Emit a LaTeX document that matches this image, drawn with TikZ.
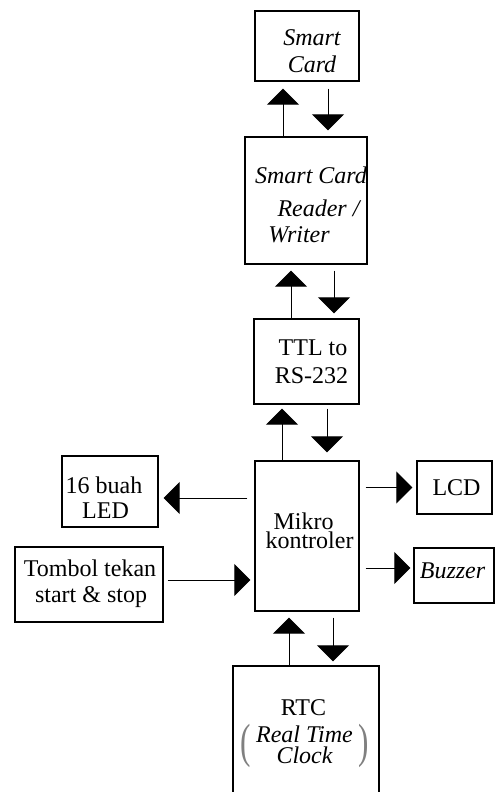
\documentclass[tikz,border=0pt]{standalone}
\usepackage{fontspec}
\setmainfont{Liberation Serif}
\usetikzlibrary{arrows.meta}
\begin{document}
\begin{tikzpicture}[x=1pt,y=-1pt,
  box/.style={draw, line width=1.3pt, inner sep=0pt},
  txt/.style={anchor=base, inner sep=0pt, font=\fontsize{24}{28}\selectfont},
  itxt/.style={txt, font=\fontsize{24}{28}\selectfont\itshape},
  arr/.style={line width=1pt, -{Triangle[length=16pt,width=32pt]}},
  paren/.style={inner sep=0pt, text=black!50, font=\fontsize{24}{28}\selectfont}]
\useasboundingbox (0,0) rectangle (495,792);
\clip (0,0) rectangle (495,792);
\fill[white] (0,0) rectangle (495,792);
% boxes
\node[box, minimum width=104pt, minimum height=70pt] (sc) at (307,46) {};
\node[box, minimum width=122pt, minimum height=127pt] (rdr) at (306,200.5) {};
\node[box, minimum width=105pt, minimum height=85pt] (ttl) at (306.5,361.5) {};
\node[box, minimum width=104pt, minimum height=150pt] (mk) at (307,536) {};
\node[box, minimum width=96pt, minimum height=71pt] (led) at (110,491.5) {};
\node[box, minimum width=148pt, minimum height=75pt] (tb) at (89,584.5) {};
\node[box, minimum width=75pt, minimum height=53pt] (lcd) at (454.5,487.5) {};
\node[box, minimum width=80pt, minimum height=55pt] (bz) at (454,575.5) {};
\node[box, minimum width=146pt, minimum height=154pt] (rtc) at (306,743) {};
% texts
\node[itxt] (t1) at (312,46) {Smart};
\node[itxt] (t2) at (312,73) {Card};
\node[itxt] (t3) at (311,183) {Smart Card};
\node[itxt] (t4) at (318.5,216) {Reader /};
\node[itxt] (t5) at (299,242) {Writer};
\node[txt] (t6) at (313,355) {TTL to};
\node[txt] (t7) at (311.5,383) {RS-232};
\node[txt, align=center, font=\fontsize{24}{19}\selectfont] (t8) at (306.5,548)
  {Mikro\hspace*{6pt}\\\hspace*{6pt}kontroler};
\node[txt] (t10) at (104,493) {16 buah};
\node[txt] (t11) at (105.5,518) {LED};
\node[txt] (t12) at (90,576) {Tombol tekan};
\node[txt] (t13) at (91,602) {start \& stop};
\node[txt] (t14) at (456.5,495) {LCD};
\node[itxt] (t15) at (452.5,578) {Buzzer};
\node[txt] (t16) at (303.5,715) {RTC};
\node[itxt, align=center, font=\fontsize{24}{21}\selectfont\itshape] (t17) at (304.5,763)
  {Real Time\\Clock};
\node[paren] (p1) at (246,746) {\scalebox{1.3}[2.0]{(}};
\node[paren] (p2) at (364,746) {\scalebox{1.3}[2.0]{)}};
% vertical connectors
\draw[arr, shorten >=7pt] ([xshift=-23pt]rdr.north) -- ([xshift=-23pt]rdr.north |- sc.south);
\draw[arr, shorten <=7pt, shorten >=6pt] ([xshift=21pt]sc.south) -- ([xshift=21pt]sc.south |- rdr.north);
\draw[arr, shorten >=6pt] ([xshift=-15.5pt]ttl.north) -- ([xshift=-15.5pt]ttl.north |- rdr.south);
\draw[arr, shorten <=6pt, shorten >=5pt] ([xshift=28pt]rdr.south) -- ([xshift=28pt]rdr.south |- ttl.north);
\draw[arr, shorten >=4pt] ([xshift=-25pt]mk.north) -- ([xshift=-25pt]mk.north |- ttl.south);
\draw[arr, shorten <=4pt, shorten >=8pt] ([xshift=20.5pt]ttl.south) -- ([xshift=20.5pt]ttl.south |- mk.north);
\draw[arr, shorten >=6pt] ([xshift=-17pt]rtc.north) -- ([xshift=-17pt]rtc.north |- mk.south);
\draw[arr, shorten <=6pt, shorten >=4pt] ([xshift=26pt]mk.south) -- ([xshift=26pt]mk.south |- rtc.north);
% horizontal connectors
\draw[arr, shorten <=7pt, shorten >=5pt] ([yshift=38pt]mk.west) -- ([yshift=38pt]mk.west -| led.east);
\draw[arr, shorten <=4pt, shorten >=4pt] ([yshift=4.5pt]tb.east) -- ([yshift=4.5pt]tb.east -| mk.west);
\draw[arr, shorten <=6pt, shorten >=4pt] (lcd.west -| mk.east) -- (lcd.west);
\draw[arr, shorten <=6pt, shorten >=3pt] ([yshift=7.5pt]bz.west -| mk.east) -- ([yshift=7.5pt]bz.west);
\end{tikzpicture}
\end{document}
